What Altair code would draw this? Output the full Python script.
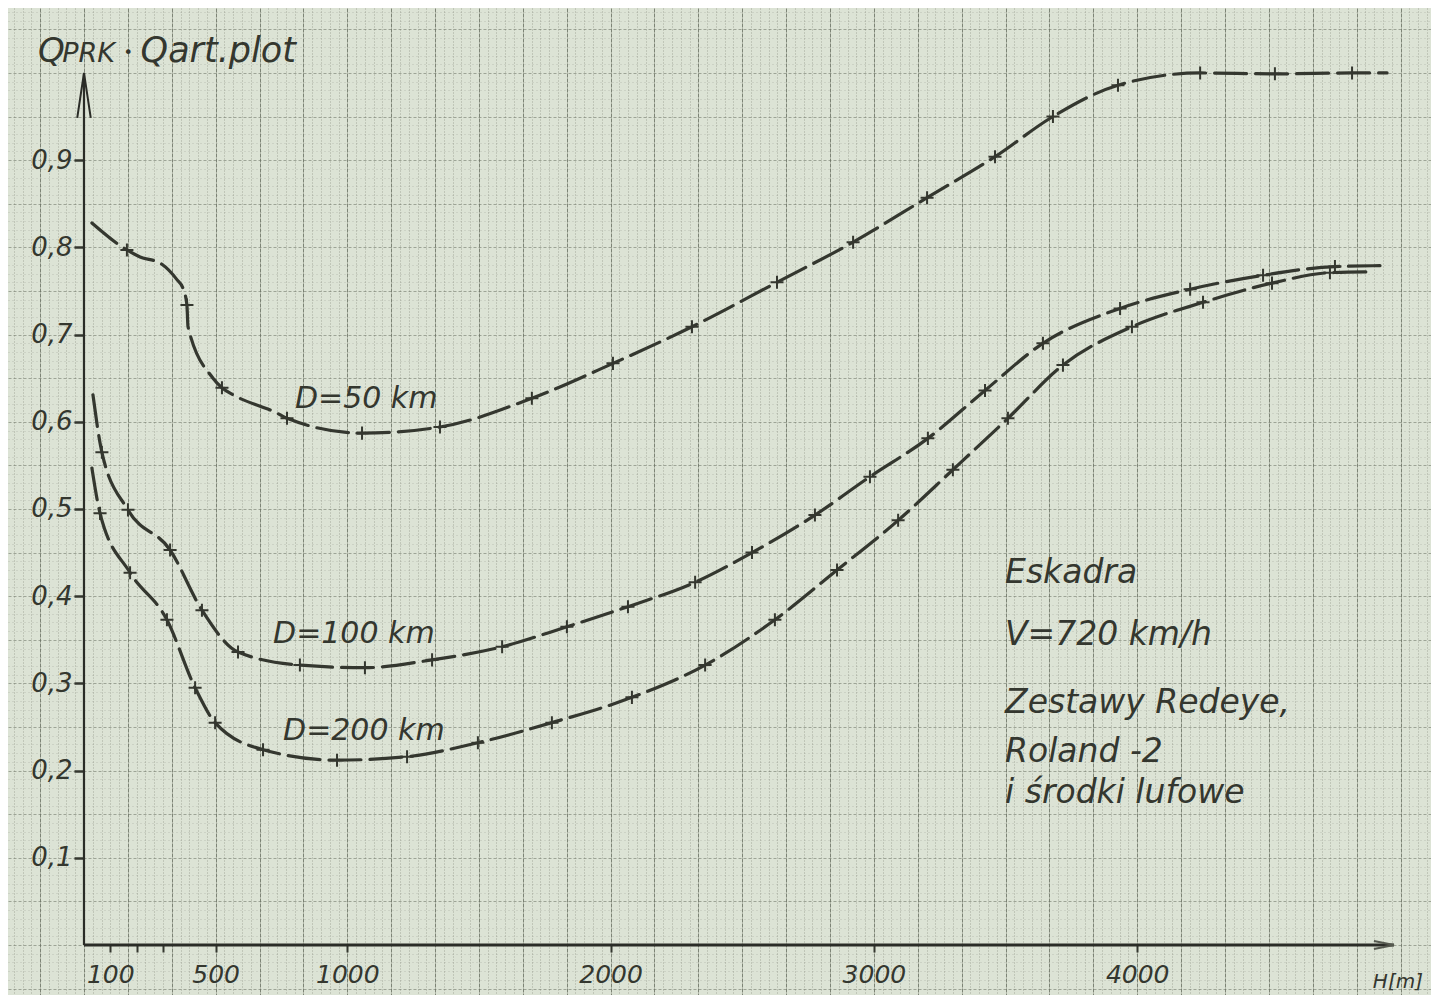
import json
import altair as alt
import pandas as pd

# ---------------- data ----------------
# D = 50 km
H50 = [30, 163, 213, 289, 353, 376, 391, 395, 490, 524, 566, 733, 771, 1056, 1352, 1701,
       2009, 2309, 2632, 2921, 3202, 3460, 3680, 3927, 4239, 4523, 4816, 4949]
Q50 = [0.828, 0.797, 0.789, 0.782, 0.763, 0.753, 0.734, 0.709, 0.650, 0.639, 0.631, 0.610,
       0.604, 0.587, 0.594, 0.627, 0.667, 0.709, 0.760, 0.806, 0.857, 0.904, 0.950, 0.986,
       1.000, 0.999, 1.000, 1.000]
M50 = [0, 1, 0, 0, 0, 0, 1, 0, 0, 1, 0, 0, 1, 1, 1, 1, 1, 1, 1, 1, 1, 1, 1, 1, 1, 1, 1, 0]

# D = 100 km
H100 = [34, 68, 167, 327, 448, 585, 820, 1067, 1322, 1588, 1834, 2066, 2321, 2537, 2776,
        2985, 3205, 3422, 3642, 3935, 4201, 4478, 4751, 4922]
Q100 = [0.631, 0.565, 0.499, 0.453, 0.384, 0.336, 0.321, 0.318, 0.327, 0.342, 0.365, 0.388,
        0.416, 0.450, 0.493, 0.537, 0.581, 0.636, 0.690, 0.730, 0.752, 0.768, 0.778, 0.779]
M100 = [0] + [1] * 22 + [0]

# D = 200 km
H200 = [30, 61, 175, 315, 422, 498, 680, 961, 1227, 1496, 1777, 2081, 2359, 2624, 2860,
        3092, 3300, 3509, 3718, 3980, 4250, 4512, 4732, 4896]
Q200 = [0.547, 0.495, 0.427, 0.373, 0.295, 0.255, 0.224, 0.212, 0.216, 0.232, 0.255, 0.284,
        0.321, 0.373, 0.430, 0.487, 0.545, 0.604, 0.665, 0.709, 0.737, 0.759, 0.771, 0.772]
M200 = [0] + [1] * 22 + [0]

# axis tick / label values
X_TICKS = [100, 200, 300, 500, 1000, 2000, 3000, 4000]
X_LABELS = [100, 500, 1000, 2000, 3000, 4000]
Y_LABELS = [0.1, 0.2, 0.3, 0.4, 0.5, 0.6, 0.7, 0.8, 0.9]

# annotations (text, H, Q, font size)
ANN_TEXT = ["Q", "PRK", "•", "Qart.plot", "D=50 km", "D=100 km", "D=200 km",
            "Eskadra", "V=720 km/h", "Zestawy  Redeye,", "Roland -2", "i środki  lufowe", "H[m]"]
ANN_H = [-175, -83, 150, 215, 801, 718, 756, 3498, 3498, 3498, 3498, 3498, 4895]
ANN_Q = [1.013, 1.013, 1.017, 1.013, 0.616, 0.346, 0.235, 0.415, 0.344, 0.266, 0.210, 0.163, -0.049]
ANN_SIZE = [34, 27, 16, 35, 30, 30, 30, 33, 33, 33, 33, 33, 20]

# axis lines with arrows
AXIS_H = [0, 0]
AXIS_H2 = [4975, 0]
AXIS_Q = [0, 0]
AXIS_Q2 = [0, 1.0]
AXIS_W = [3.0, 2.2]

# ---------------- frames ----------------
rows = []
for name, hs, qs, ms in [("D=50", H50, Q50, M50), ("D=100", H100, Q100, M100),
                         ("D=200", H200, Q200, M200)]:
    for i, (h, q, m) in enumerate(zip(hs, qs, ms)):
        rows.append({"series": name, "H": h, "Q": q, "marker": m, "order": i})
curves = pd.DataFrame(rows)
ann = pd.DataFrame({"text": ANN_TEXT, "H": ANN_H, "Q": ANN_Q, "size": ANN_SIZE})
axes_df = pd.DataFrame({"H": AXIS_H, "H2": AXIS_H2, "Q": AXIS_Q, "Q2": AXIS_Q2, "w": AXIS_W})
arrow_y = pd.DataFrame({"H": [AXIS_H2[1]], "Q": [AXIS_Q2[1]]})
arrow_x = pd.DataFrame({"H": [AXIS_H2[0]], "Q": [AXIS_Q2[0]]})

# ---------------- scales & axes ----------------
X_DOMAIN = [-288.6, 5115.8]
Y_DOMAIN = [-0.0573, 1.0745]
xs = alt.Scale(domain=X_DOMAIN, nice=False, zero=False)
ys = alt.Scale(domain=Y_DOMAIN, nice=False, zero=False)

grid_x = [i * 100 / 3 for i in range(-8, 154)]
grid_y = [i / 100 for i in range(-5, 108)]

INK = "#34372f"
FONT = "DejaVu Sans"

x_major = "abs(datum.value*3/500 - round(datum.value*3/500)) < 0.01"
y_major = "abs(datum.value*20 - round(datum.value*20)) < 0.01"

x_axis = alt.Axis(
    values=grid_x, offset=-50, domain=False, grid=True,
    gridColor="#5d6456", gridWidth=1,
    gridOpacity={"condition": {"test": x_major, "value": 0.75}, "value": 0.45},
    gridDash={"condition": {"test": x_major, "value": [4, 1]}, "value": [1, 2]},
    tickSize=7, tickWidth=2, tickColor=INK,
    tickOpacity={"condition": {"test": f"indexof({json.dumps(X_TICKS)}, datum.value) >= 0",
                               "value": 1}, "value": 0},
    labelExpr=f"indexof({json.dumps(X_LABELS)}, datum.value) >= 0 ? format(datum.value, 'd') : ''",
    labelFont=FONT, labelFontStyle="italic", labelFontSize=25, labelColor=INK,
    labelPadding=10, labelOverlap=False, labelFlush=False, labelBound=False, title=None,
)
y_axis = alt.Axis(
    values=grid_y, offset=-76, domain=False, grid=True,
    gridColor="#6a7163", gridWidth=1,
    gridOpacity={"condition": {"test": y_major, "value": 0.55}, "value": 0.28},
    gridDash={"condition": {"test": y_major, "value": [3, 2]}, "value": [1, 3]},
    tickSize=10, tickWidth=2.5, tickColor=INK,
    tickOpacity={"condition": {"test": f"indexof({json.dumps(Y_LABELS)}, datum.value) >= 0",
                               "value": 1}, "value": 0},
    labelExpr=f"indexof({json.dumps(Y_LABELS)}, datum.value) >= 0 ? replace(format(datum.value, '.1f'), '.', ',') : ''",
    labelFont=FONT, labelFontStyle="italic", labelFontSize=26, labelColor=INK,
    labelPadding=2, labelOverlap=False, labelFlush=False, labelBound=False, title=None,
)

X_ENC = alt.X("H:Q", scale=xs, axis=x_axis)
Y_ENC = alt.Y("Q:Q", scale=ys, axis=y_axis)

# ---------------- layers ----------------
lines = alt.Chart(curves).mark_line(
    interpolate="monotone", strokeDash=[32, 9], strokeWidth=3.2, color=INK, strokeCap="round"
).encode(
    x=X_ENC, y=Y_ENC,
    detail="series:N",
    order="order:Q",
)

markers = alt.Chart(curves).transform_filter("datum.marker == 1").mark_point(
    shape="M-1,0L1,0M0,-1L0,1", size=170, filled=False, strokeWidth=2, color=INK, opacity=1
).encode(x=X_ENC, y=Y_ENC)

axis_lines = alt.Chart(axes_df).mark_rule(color="#2a2c27").encode(
    x=X_ENC, x2="H2:Q", y=Y_ENC, y2="Q2:Q",
    size=alt.Size("w:Q", scale=None, legend=None),
)

arr_y = alt.Chart(arrow_y).mark_point(
    shape="M-0.3,2L0,0L0.3,2", size=2025, filled=False, strokeWidth=2, color="#2a2c27", opacity=1
).encode(x=X_ENC, y=Y_ENC)

arr_x = alt.Chart(arrow_x).mark_point(
    shape="M-2,-0.4L0,0L-2,0.4", size=400, filled=False, strokeWidth=2, color="#55594f", opacity=1
).encode(x=X_ENC, y=Y_ENC)

texts = alt.Chart(ann).mark_text(
    align="left", baseline="alphabetic", font=FONT, fontStyle="italic", color=INK
).encode(
    x=X_ENC, y=Y_ENC,
    text="text:N",
    size=alt.Size("size:Q", scale=None, legend=None),
)

chart = alt.layer(lines, markers, axis_lines, arr_y, arr_x, texts).properties(
    width=1423, height=987,
    autosize=alt.AutoSizeParams(type="none"),
    padding=0,
    background="#dce3d5",
).configure_view(strokeWidth=0)

chart.save("out.html", embed_options={"renderer": "svg", "actions": False})
